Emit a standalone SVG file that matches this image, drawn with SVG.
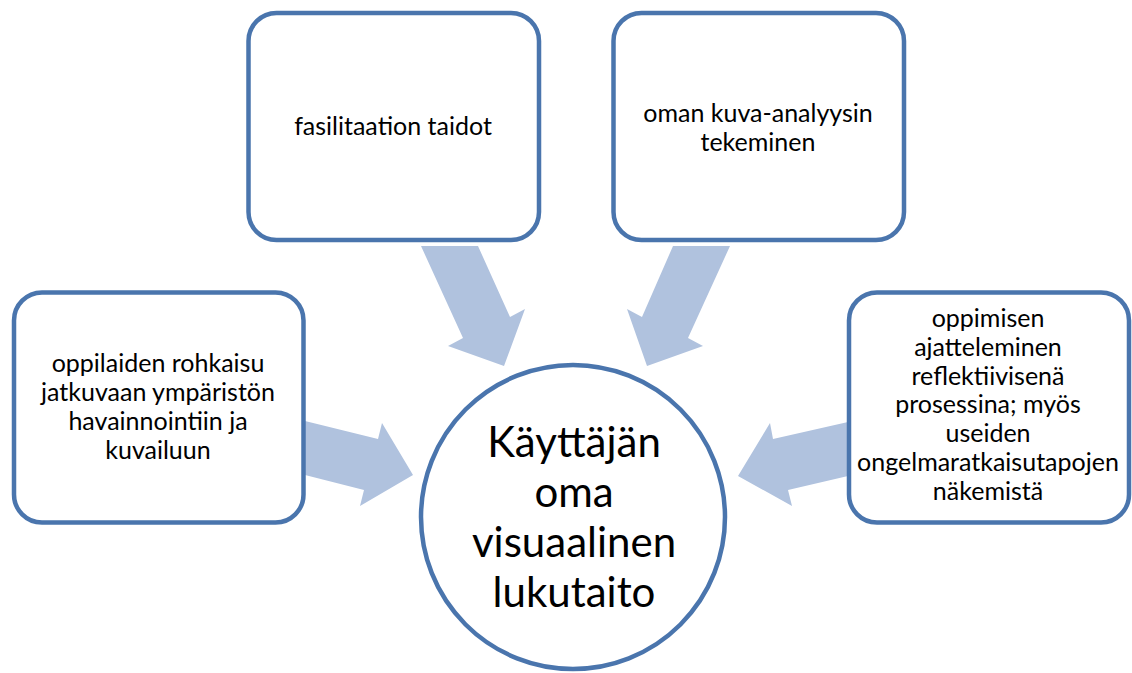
<svg xmlns="http://www.w3.org/2000/svg" width="1132" height="673" viewBox="0 0 1132 673">
<style>
.box{fill:#ffffff;stroke:#4a75ad;stroke-width:4.5}
.arrow{fill:#b0c2de;stroke:none}
.t{font-family:Lato,"Liberation Sans",sans-serif;font-size:25px;fill:#000;text-anchor:middle}
.big{font-family:Lato,"Liberation Sans",sans-serif;font-size:42px;fill:#000;text-anchor:middle}
</style>
<rect width="1132" height="673" fill="#ffffff"/>
<g id="connectors">
<polygon class="arrow" points="421,246 478,246 510,317 525,309 504,366 448,346 463,338"/>
<polygon class="arrow" points="730,246 673,246 642,317 627,309 647,366 703,346 688,338"/>
<polygon class="arrow" points="305,421 378,439 382,423 413,475 360,506 364,490 305,475"/>
<polygon class="arrow" points="848,422 773,439 770,423 738,476 792,506 788,490 848,476"/>
</g>
<g id="node-top-left">
<rect class="box" x="248.5" y="13" width="290.5" height="227" rx="28"/>
<text class="t" x="393" y="135">fasilitaation taidot</text>
</g>
<g id="node-top-right">
<rect class="box" x="613.5" y="13" width="290.5" height="227" rx="28"/>
<text class="t" x="758" y="122">oman kuva-analyysin</text>
<text class="t" x="758" y="151">tekeminen</text>
</g>
<g id="node-left">
<rect class="box" x="14" y="292.5" width="289.5" height="230" rx="28"/>
<text class="t" x="158" y="372">oppilaiden rohkaisu</text>
<text class="t" x="158" y="401">jatkuvaan ympäristön</text>
<text class="t" x="158" y="430">havainnointiin ja</text>
<text class="t" x="158" y="459">kuvailuun</text>
</g>
<g id="node-right">
<rect class="box" x="849" y="292.5" width="280" height="230" rx="28"/>
<text class="t" x="988" y="327">oppimisen</text>
<text class="t" x="988" y="356">ajatteleminen</text>
<text class="t" x="988" y="385">reflektiivisenä</text>
<text class="t" x="988" y="413">prosessina; myös</text>
<text class="t" x="988" y="442">useiden</text>
<text class="t" x="988" y="471">ongelmaratkaisutapojen</text>
<text class="t" x="988" y="500">näkemistä</text>
</g>
<g id="node-center">
<circle class="box" cx="573" cy="517" r="152"/>
<text class="big" x="574" y="457">Käyttäjän</text>
<text class="big" x="574" y="507">oma</text>
<text class="big" x="574" y="557">visuaalinen</text>
<text class="big" x="574" y="607">lukutaito</text>
</g>
</svg>
